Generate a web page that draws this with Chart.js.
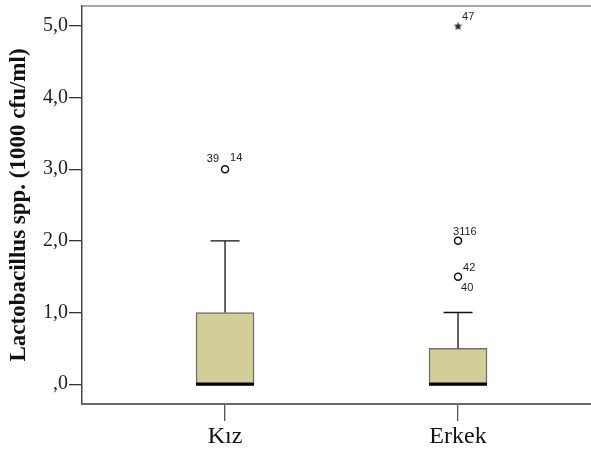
<!DOCTYPE html>
<html><head><meta charset="utf-8">
<script src="https://cdn.jsdelivr.net/npm/chart.js@4/dist/chart.umd.min.js"></script>
<style>html,body{margin:0;padding:0;background:#fff}canvas{display:block}</style>
</head><body>
<canvas id="c" width="591" height="455"></canvas>
<script>
// ---- data ----
const categories = ['Kız', 'Erkek'];
const whiskerLow = [0.0, 0.0];
const q1 = [0.0, 0.0];
const median = [0.0, 0.0];
const q3 = [1.0, 0.5];
const whiskerHigh = [2.0, 1.0];
const outlierGroup = [0, 1, 1];
const outlierValue = [3.0, 2.0, 1.5];
const outlierCases = [['39', '14'], ['3116'], ['42', '40']];
const extremeGroup = [1];
const extremeValue = [5.0];
const extremeCases = [['47']];
const yTicks = [0, 1, 2, 3, 4, 5];
const yTickLabels = [',0', '1,0', '2,0', '3,0', '4,0', '5,0'];
const yTitle = 'Lactobacillus spp. (1000 cfu/ml)';

// ---- styles ----
const boxFill = '#d3ce97';
const boxBorder = '#6e6e6e';
const capHalf = 14.5;
// label placement per case label: [dx, dy, align]
const outlierLabelPos = [[[-6, -10, 'right'], [5, -11, 'left']], [[-5, -9, 'left']], [[5, -9, 'left'], [3, 11, 'left']]];
const extremeLabelPos = [[[4, -9, 'left']]];

function makeStar(r) {
  const s = Math.ceil(r * 2 + 2);
  const c = document.createElement('canvas');
  c.width = s; c.height = s;
  const g = c.getContext('2d');
  g.translate(s / 2, s / 2 + 0.5);
  g.beginPath();
  for (let i = 0; i < 10; i++) {
    const rr = i % 2 ? r * 0.42 : r;
    const a = -Math.PI / 2 + i * Math.PI / 5;
    g.lineTo(rr * Math.cos(a), rr * Math.sin(a));
  }
  g.closePath();
  g.fillStyle = '#222';
  g.fill();
  return c;
}

const boxPlugin = {
  id: 'boxParts',
  afterDatasetsDraw(chart) {
    const ctx = chart.ctx;
    const xs = chart.scales.x, ys = chart.scales.y;
    const barMeta = chart.getDatasetMeta(0);
    ctx.save();
    categories.forEach((c, i) => {
      const x = xs.getPixelForValue(i + 1);
      const bar = barMeta.data[i];
      const half = bar.width / 2;
      ctx.strokeStyle = '#111';
      ctx.lineWidth = 1.3;
      ctx.beginPath();
      ctx.moveTo(x, ys.getPixelForValue(q3[i]));
      ctx.lineTo(x, ys.getPixelForValue(whiskerHigh[i]));
      ctx.moveTo(x - capHalf, ys.getPixelForValue(whiskerHigh[i]));
      ctx.lineTo(x + capHalf, ys.getPixelForValue(whiskerHigh[i]));
      ctx.stroke();
      if (whiskerLow[i] < q1[i]) {
        ctx.beginPath();
        ctx.moveTo(x, ys.getPixelForValue(q1[i]));
        ctx.lineTo(x, ys.getPixelForValue(whiskerLow[i]));
        ctx.moveTo(x - capHalf, ys.getPixelForValue(whiskerLow[i]));
        ctx.lineTo(x + capHalf, ys.getPixelForValue(whiskerLow[i]));
        ctx.stroke();
      }
      ctx.strokeStyle = '#000';
      ctx.lineWidth = 3;
      ctx.beginPath();
      const ym = ys.getPixelForValue(median[i]);
      ctx.moveTo(x - half, ym);
      ctx.lineTo(x + half, ym);
      ctx.stroke();
    });
    ctx.font = '11px "Liberation Sans", Arial, sans-serif';
    ctx.fillStyle = '#222';
    ctx.textBaseline = 'middle';
    const om = chart.getDatasetMeta(1), em = chart.getDatasetMeta(2);
    outlierCases.forEach((labs, k) => {
      const p = om.data[k];
      labs.forEach((t, j) => {
        const [dx, dy, al] = outlierLabelPos[k][j];
        ctx.textAlign = al;
        ctx.fillText(t, p.x + dx, p.y + dy);
      });
    });
    extremeCases.forEach((labs, k) => {
      const p = em.data[k];
      labs.forEach((t, j) => {
        const [dx, dy, al] = extremeLabelPos[k][j];
        ctx.textAlign = al;
        ctx.fillText(t, p.x + dx, p.y + dy);
      });
    });
    const a = chart.chartArea;
    // top frame line
    ctx.strokeStyle = '#8a8a8a';
    ctx.lineWidth = 1.5;
    ctx.beginPath();
    ctx.moveTo(a.left, a.top);
    ctx.lineTo(chart.width, a.top);
    ctx.stroke();
    // extend bottom axis to the canvas edge
    const yb = Math.round(a.bottom);
    ctx.strokeStyle = '#6a6a6a';
    ctx.lineWidth = 2;
    ctx.beginPath();
    ctx.moveTo(a.right - 2, yb);
    ctx.lineTo(chart.width, yb);
    ctx.stroke();
    ctx.restore();
  }
};

new Chart(document.getElementById('c'), {
  data: {
    datasets: [
      {
        type: 'bar',
        data: categories.map((c, i) => ({ x: i + 1, y: [q1[i], q3[i]] })),
        backgroundColor: boxFill,
        borderColor: boxBorder,
        borderWidth: 1.5,
        borderSkipped: false,
        barThickness: 58
      },
      {
        type: 'scatter',
        data: outlierValue.map((v, k) => ({ x: outlierGroup[k] + 1, y: v })),
        pointStyle: 'circle',
        pointRadius: 3.5,
        backgroundColor: '#fff',
        borderColor: '#111',
        borderWidth: 1.5
      },
      {
        type: 'scatter',
        data: extremeValue.map((v, k) => ({ x: extremeGroup[k] + 1, y: v })),
        pointStyle: makeStar(4.5),
        pointRadius: 5
      }
    ]
  },
  options: {
    responsive: false,
    animation: false,
    layout: { padding: { top: 3, left: 0, right: 0, bottom: 0 } },
    plugins: { legend: { display: false }, tooltip: { enabled: false } },
    scales: {
      x: {
        type: 'linear',
        offset: false,
        min: 0.386,
        max: 2.545,
        afterBuildTicks: s => { s.ticks = categories.map((c, i) => ({ value: i + 1 })); },
        afterFit: s => { s.height = 51; s.paddingLeft = 0; s.paddingRight = 0; },
        ticks: {
          autoSkip: false,
          maxRotation: 0,
          padding: 1,
          color: '#111',
          font: { family: '"Liberation Serif", "Times New Roman", serif', size: 24 },
          callback: (v) => categories[Math.round(v) - 1]
        },
        grid: { offset: false, drawOnChartArea: false, drawTicks: true, tickLength: 17, color: '#555', lineWidth: 1.3 },
        border: { color: '#6a6a6a', width: 2 }
      },
      y: {
        type: 'linear',
        min: -0.277,
        max: 5.277,
        afterBuildTicks: s => { s.ticks = yTicks.map(v => ({ value: v })); },
        afterFit: s => { s.width = 82; s.paddingTop = 0; s.paddingBottom = 0; },
        ticks: {
          padding: 1,
          color: '#222',
          font: { family: '"Liberation Serif", "Times New Roman", serif', size: 20 },
          callback: (v) => yTickLabels[yTicks.indexOf(v)]
        },
        grid: { drawOnChartArea: false, drawTicks: true, tickLength: 13, color: '#333', lineWidth: 1.3 },
        border: { color: '#444', width: 1.5 },
        title: {
          display: true,
          text: yTitle,
          color: '#111',
          padding: { top: 5, bottom: 0 },
          font: { family: '"Liberation Serif", "Times New Roman", serif', size: 23, weight: 'bold' }
        }
      }
    }
  },
  plugins: [boxPlugin]
});
</script>
</body></html>
